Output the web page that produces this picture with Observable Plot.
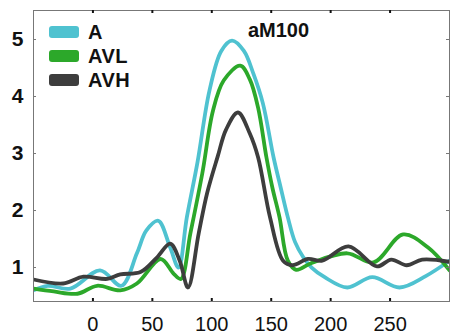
<!DOCTYPE html>
<html>
<head>
<meta charset="utf-8">
<script src="https://cdn.jsdelivr.net/npm/d3@7"></script>
<script src="https://cdn.jsdelivr.net/npm/@observablehq/plot@0.6"></script>
<style>
  html, body { margin: 0; padding: 0; background: #fff; }
  #wrap { position: relative; width: 450px; height: 335px; font-family: "Liberation Sans", Arial, sans-serif; }
  .legend { position: absolute; left: 49px; top: 20px; }
  .item { display: flex; align-items: center; height: 24px; }
  .sw { width: 30px; height: 12px; border-radius: 3px; margin-right: 9px; }
  .lab { font-weight: bold; font-size: 20px; color: #111; letter-spacing: 0.5px; }
</style>
</head>
<body>
<div id="wrap"></div>
<script>
const title = "aM100";
const seriesNames = ["A", "AVL", "AVH"];
const seriesColors = ["#4fc2d0", "#2ca82a", "#3d3d3d"];
const xTicks = [0, 50, 100, 150, 200, 250];
const yTicks = [1, 2, 3, 4, 5];

const xA = [-50, -38, -19, 6, 24, 37, 45, 55, 65, 72, 79, 88, 98, 108, 117, 127, 135, 143, 152, 158, 164, 170, 177, 184, 195, 214, 235, 258, 280, 300];
const yA = [0.60, 0.68, 0.63, 0.95, 0.68, 1.25, 1.65, 1.82, 1.35, 1.0, 1.88, 2.85, 4.1, 4.8, 4.98, 4.8, 4.4, 3.88, 2.93, 2.4, 1.88, 1.45, 1.18, 1.0, 0.83, 0.65, 0.83, 0.65, 0.85, 1.12];

const xAVL = [-50, -33, -13, 3.5, 23, 37, 57, 68, 74, 82, 92, 101, 110, 124, 132, 139, 146, 151, 157, 164, 171, 184, 214, 236, 261, 282, 300];
const yAVL = [0.63, 0.58, 0.54, 0.68, 0.60, 0.72, 1.15, 0.89, 0.8, 1.6, 2.65, 3.75, 4.28, 4.54, 4.3, 3.8, 2.93, 2.4, 1.88, 1.12, 0.96, 1.08, 1.25, 1.09, 1.58, 1.35, 0.95];

const xAVH = [-50, -25, -8, 12, 23, 40, 54, 65, 73, 80, 89, 96, 105, 112, 122, 132, 139, 149, 160, 168, 181, 193, 215, 239, 251, 264, 277, 300];
const yAVH = [0.79, 0.72, 0.84, 0.8, 0.88, 0.92, 1.18, 1.42, 1.12, 0.65, 1.6, 2.3, 2.95, 3.42, 3.72, 3.35, 2.93, 1.88, 1.12, 1.04, 1.15, 1.12, 1.37, 1.02, 1.14, 1.04, 1.14, 1.1];

const xs = [xA, xAVL, xAVH];
const ys = [yA, yAVL, yAVH];
const rows = [];
seriesNames.forEach((s, i) => xs[i].forEach((x, j) => rows.push({series: s, x, y: ys[i][j]})));

const W = 450, H = 335, mt = 10, mb = 34, ml = 33, mr = 1;
const ph = H - mt - mb, pw = W - ml - mr;

const chart = Plot.plot({
  width: W, height: H,
  marginTop: mt, marginBottom: mb, marginLeft: ml, marginRight: mr,
  style: {fontFamily: "'Liberation Sans', Arial, sans-serif", background: "#fff", color: "#111"},
  x: {domain: [-50, 300]},
  y: {domain: [0.404, 5.509]},
  color: {domain: seriesNames, range: seriesColors},
  marks: [
    Plot.line(rows, {x: "x", y: "y", z: "series", stroke: "series", strokeWidth: 3.8, curve: "catmull-rom", clip: true}),
    Plot.frame({stroke: "#777", strokeWidth: 1}),
    Plot.tickX(xTicks, {x: d => d, insetTop: ph - 3, stroke: "#111", strokeWidth: 2}),
    Plot.tickX(xTicks, {x: d => d, insetBottom: ph - 3, stroke: "#111", strokeWidth: 2}),
    Plot.tickY(yTicks, {y: d => d, insetRight: pw - 3, stroke: "#777", strokeWidth: 1}),
    Plot.tickY(yTicks, {y: d => d, insetLeft: pw - 3, stroke: "#777", strokeWidth: 1}),
    Plot.axisX(xTicks, {anchor: "bottom", tickSize: 0, tickPadding: 15, fontSize: 20, tickFormat: d => String(d), fill: "#111", label: null}),
    Plot.axisY(yTicks, {anchor: "left", tickSize: 0, tickPadding: 10, fontSize: 21, fontWeight: "bold", tickFormat: d => String(d), fill: "#111", label: null}),
    Plot.text([title], {frameAnchor: "top", dx: 37, dy: 20, lineAnchor: "middle", fontSize: 20, fontWeight: "bold", fill: "#111"})
  ]
});

const wrap = document.getElementById("wrap");
wrap.appendChild(chart);
const leg = document.createElement("div");
leg.className = "legend";
seriesNames.forEach((s, i) => {
  const it = document.createElement("div");
  it.className = "item";
  it.innerHTML = `<div class="sw" style="background:${seriesColors[i]}"></div><div class="lab">${s}</div>`;
  leg.appendChild(it);
});
wrap.appendChild(leg);
</script>
</body>
</html>
